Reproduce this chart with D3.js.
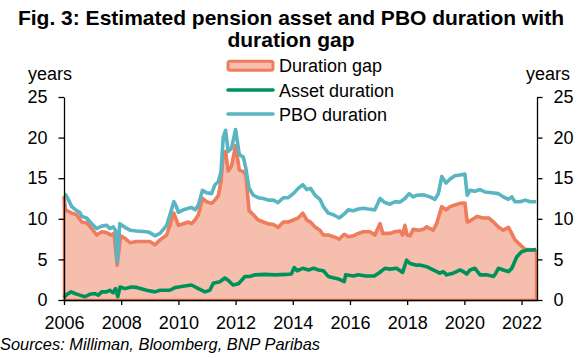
<!DOCTYPE html>
<html>
<head>
<meta charset="utf-8">
<script src="https://cdn.jsdelivr.net/npm/d3@7"></script>
<style>
  html, body { margin: 0; padding: 0; background: #fff; }
  svg { display: block; font-family: "Liberation Sans", Arial, sans-serif; }
</style>
</head>
<body>
<svg id="chart" width="588" height="358"></svg>
<script>
// ---- Data ----
const titleLines = ["Fig. 3: Estimated pension asset and PBO duration with", "duration gap"];
const sourceText = "Sources: Milliman, Bloomberg, BNP Paribas";
const legendLabels = ["Duration gap", "Asset duration", "PBO duration"];
const xTickValues = [2006, 2008, 2010, 2012, 2014, 2016, 2018, 2020, 2022];
const yTickValues = [0, 5, 10, 15, 20, 25];

const pboDates = [2006.00,2006.05,2006.12,2006.27,2006.44,2006.55,2006.62,2006.79,2006.97,2007.14,2007.32,2007.49,2007.60,2007.72,2007.80,2007.86,2007.95,2008.13,2008.31,2008.54,2008.89,2009.00,2009.18,2009.36,2009.59,2009.74,2009.84,2009.92,2010.00,2010.17,2010.35,2010.46,2010.58,2010.70,2010.84,2010.99,2011.16,2011.28,2011.40,2011.49,2011.57,2011.65,2011.74,2011.86,2012.00,2012.13,2012.27,2012.36,2012.47,2012.62,2012.79,2012.97,2013.14,2013.32,2013.49,2013.67,2013.84,2014.02,2014.19,2014.35,2014.49,2014.62,2014.78,2014.95,2015.07,2015.24,2015.42,2015.63,2015.80,2015.94,2016.12,2016.29,2016.47,2016.64,2016.87,2017.05,2017.22,2017.40,2017.57,2017.75,2017.92,2018.07,2018.21,2018.33,2018.56,2018.80,2018.97,2019.09,2019.21,2019.36,2019.50,2019.67,2019.85,2020.02,2020.10,2020.20,2020.37,2020.55,2020.72,2020.96,2021.19,2021.36,2021.54,2021.66,2021.77,2021.95,2022.13,2022.30,2022.51];
const pboValues = [13.0,13.0,12.6,11.5,11.0,10.8,10.3,10.1,9.4,8.8,9.1,9.2,8.8,9.0,8.6,4.7,9.4,8.95,8.6,8.5,8.4,8.3,7.9,8.2,9.2,10.9,12.1,11.6,10.8,11.1,11.3,11.4,11.1,11.7,13.5,13.2,13.1,14.2,14.6,15.8,20.1,20.9,18.3,18.7,21.0,17.9,17.6,16.2,13.8,12.9,12.6,12.5,12.3,12.3,12.0,12.6,12.6,13.1,13.75,14.2,13.6,13.75,12.9,12.4,11.5,10.7,10.5,10.1,10.6,11.1,11.0,11.2,11.3,11.2,11.1,12.5,12.0,11.8,12.1,12.05,12.5,13.1,12.7,12.9,12.95,12.7,12.4,13.1,15.2,14.4,14.9,15.3,15.4,15.5,12.9,13.5,13.4,13.6,13.3,13.2,13.1,12.7,12.4,12.7,12.1,12.1,12.3,12.1,12.1];

const gapDates = [2006.00,2006.05,2006.27,2006.44,2006.62,2006.79,2006.97,2007.14,2007.32,2007.49,2007.65,2007.75,2007.86,2007.98,2008.13,2008.31,2008.54,2008.89,2009.00,2009.18,2009.36,2009.59,2009.74,2009.84,2010.00,2010.17,2010.35,2010.46,2010.58,2010.70,2010.84,2010.99,2011.16,2011.28,2011.40,2011.49,2011.57,2011.65,2011.74,2011.86,2012.00,2012.13,2012.27,2012.36,2012.47,2012.62,2012.79,2012.97,2013.14,2013.32,2013.49,2013.67,2013.84,2014.02,2014.19,2014.35,2014.49,2014.62,2014.78,2014.95,2015.07,2015.24,2015.42,2015.63,2015.80,2015.94,2016.12,2016.29,2016.47,2016.70,2016.87,2017.05,2017.15,2017.40,2017.57,2017.75,2017.84,2017.92,2018.00,2018.10,2018.21,2018.39,2018.56,2018.68,2018.91,2019.03,2019.21,2019.36,2019.50,2019.67,2019.85,2020.02,2020.10,2020.25,2020.45,2020.65,2020.85,2021.02,2021.19,2021.36,2021.54,2021.66,2021.77,2021.95,2022.13,2022.30,2022.51];
const gapValues = [12.7,11.1,10.7,10.5,9.6,9.5,8.8,8.0,8.4,8.3,8.0,8.2,4.3,7.9,7.6,7.05,7.2,7.2,7.2,6.8,7.4,8.0,9.6,10.7,9.2,9.4,9.6,9.4,9.85,10.5,12.5,12.1,11.9,12.3,12.9,14.6,18.0,18.3,15.9,16.5,19.0,16.0,15.8,15.4,11.0,10.5,9.85,9.6,9.4,9.3,8.95,9.6,9.6,9.85,10.1,10.7,9.85,9.6,9.0,8.6,8.0,8.0,7.8,7.5,8.1,7.8,7.9,8.2,8.4,8.4,8.0,9.4,8.2,8.2,8.4,8.5,8.0,9.2,8.0,7.9,8.7,8.6,8.7,9.0,8.6,9.4,11.5,11.1,11.5,11.7,11.9,11.95,9.6,9.85,10.3,10.1,10.1,9.6,9.0,8.6,8.95,8.2,7.4,6.8,6.2,6.2,6.1];

const assetDates = [2006.00,2006.10,2006.25,2006.38,2006.55,2006.73,2006.90,2007.08,2007.20,2007.32,2007.49,2007.60,2007.72,2007.80,2007.88,2007.96,2008.13,2008.35,2008.54,2008.89,2009.18,2009.36,2009.70,2009.90,2010.17,2010.46,2010.70,2010.93,2011.10,2011.22,2011.45,2011.63,2011.75,2011.91,2012.10,2012.33,2012.50,2012.68,2013.00,2013.40,2013.75,2013.95,2014.05,2014.15,2014.35,2014.55,2014.73,2014.90,2015.07,2015.24,2015.45,2015.63,2015.80,2015.85,2016.12,2016.29,2016.55,2016.85,2017.00,2017.22,2017.40,2017.63,2017.84,2017.98,2018.10,2018.30,2018.45,2018.68,2018.91,2019.14,2019.26,2019.38,2019.61,2019.85,2019.96,2020.08,2020.20,2020.37,2020.55,2020.78,2021.02,2021.10,2021.19,2021.36,2021.54,2021.66,2021.83,2022.00,2022.19,2022.36,2022.51];
const assetValues = [0.3,0.7,1.0,0.8,0.6,0.4,0.7,0.8,0.6,1.0,1.0,1.2,0.9,1.4,0.4,1.6,1.4,1.6,1.55,1.2,1.0,1.2,1.2,1.55,1.7,1.85,1.4,1.0,1.2,2.05,2.25,2.7,2.4,1.85,2.0,2.9,2.9,3.1,3.15,3.1,3.15,3.2,4.0,3.6,3.9,3.7,3.9,3.7,3.6,2.9,2.7,2.55,2.25,3.1,2.95,3.1,2.95,2.95,3.3,3.9,3.8,3.9,3.4,4.9,4.5,4.3,4.3,4.1,3.7,3.3,3.5,3.1,3.3,3.7,3.5,3.2,3.7,3.9,3.1,3.1,2.9,3.3,3.9,3.7,3.5,3.9,5.3,5.95,6.15,6.15,6.2];

// ---- Styles ----
const C_FILL = "#F6BFAD", C_GAP = "#EF7D5D", C_ASSET = "#00915B", C_PBO = "#58B5C1";
const LW = 3.6;
const svg = d3.select("#chart");
const font = "Liberation Sans, Arial, sans-serif";

const x = d3.scaleLinear().domain([2006, 2022.54]).range([64, 537]);
const y = d3.scaleLinear().domain([0, 25]).range([300, 97]);

const zip = (ds, vs) => ds.map((d, i) => ({ d, v: vs[i] }));
const pbo = zip(pboDates, pboValues);
const gap = zip(gapDates, gapValues);
const asset = zip(assetDates, assetValues);

// Title
svg.selectAll("text.title").data(titleLines).join("text")
  .attr("class", "title")
  .attr("x", 291).attr("y", (d, i) => 25 + i * 22)
  .attr("text-anchor", "middle")
  .attr("font-size", 21).attr("font-weight", "bold").attr("fill", "#000")
  .text(d => d);

// Area (duration gap)
const area = d3.area().x(p => x(p.d)).y0(y(0)).y1(p => y(p.v));
svg.append("path").datum(gap)
  .attr("d", area)
  .attr("fill", C_FILL)
  .attr("stroke", C_GAP).attr("stroke-width", 2.6).attr("stroke-linejoin", "round");
const line = d3.line().x(p => x(p.d)).y(p => y(p.v));
svg.append("path").datum(gap)
  .attr("d", line).attr("fill", "none")
  .attr("stroke", C_GAP).attr("stroke-width", LW).attr("stroke-linejoin", "round");

// PBO and asset lines
svg.append("path").datum(pbo)
  .attr("d", line).attr("fill", "none")
  .attr("stroke", C_PBO).attr("stroke-width", LW).attr("stroke-linejoin", "round");
svg.append("path").datum(asset)
  .attr("d", line).attr("fill", "none")
  .attr("stroke", C_ASSET).attr("stroke-width", LW).attr("stroke-linejoin", "round");

// Axes
function styleAxis(g) {
  g.selectAll("path.domain").attr("stroke", "#000").attr("stroke-width", 1.3);
  g.selectAll(".tick line").attr("stroke", "#000").attr("stroke-width", 1.3);
  g.selectAll(".tick text").attr("font-family", font).attr("font-size", 18).attr("fill", "#000");
}
const gx = svg.append("g").attr("transform", `translate(0,${y(0)})`)
  .call(d3.axisBottom(x).tickValues(xTickValues).tickFormat(d3.format("d")).tickSize(5).tickSizeOuter(0));
styleAxis(gx);
gx.selectAll(".tick text").attr("y", 28.5).attr("dy", 0);

const gl = svg.append("g").attr("transform", `translate(${x.range()[0]},0)`)
  .call(d3.axisLeft(y).tickValues(yTickValues).tickSize(5.5).tickPadding(11).tickSizeOuter(0));
styleAxis(gl);
const gr = svg.append("g").attr("transform", `translate(${x.range()[1]},0)`)
  .call(d3.axisRight(y).tickValues(yTickValues).tickSize(5.5).tickPadding(11).tickSizeOuter(0));
styleAxis(gr);

// Axis unit labels
svg.append("text").attr("x", 50).attr("y", 80).attr("text-anchor", "middle")
  .attr("font-size", 18).attr("fill", "#000").text("years");
svg.append("text").attr("x", 548).attr("y", 80).attr("text-anchor", "middle")
  .attr("font-size", 18).attr("fill", "#000").text("years");

// Legend
const lg = svg.append("g");
const legY = [65.7, 90, 114];
lg.append("rect").attr("x", 228).attr("y", legY[0] - 4.5).attr("width", 45).attr("height", 9).attr("rx", 2)
  .attr("fill", C_FILL).attr("stroke", C_GAP).attr("stroke-width", 3);
[C_ASSET, C_PBO].forEach((c, i) => {
  lg.append("line").attr("x1", 228).attr("x2", 273).attr("y1", legY[i + 1]).attr("y2", legY[i + 1])
    .attr("stroke", c).attr("stroke-width", LW).attr("stroke-linecap", "round");
});
lg.selectAll("text").data(legendLabels).join("text")
  .attr("x", 279).attr("y", (d, i) => legY[i] + 6.5)
  .attr("font-size", 18).attr("fill", "#000").text(d => d);

// Source
svg.append("text").attr("x", 0).attr("y", 350)
  .attr("font-size", 16.4).attr("font-style", "italic").attr("fill", "#000").text(sourceText);
</script>
</body>
</html>
